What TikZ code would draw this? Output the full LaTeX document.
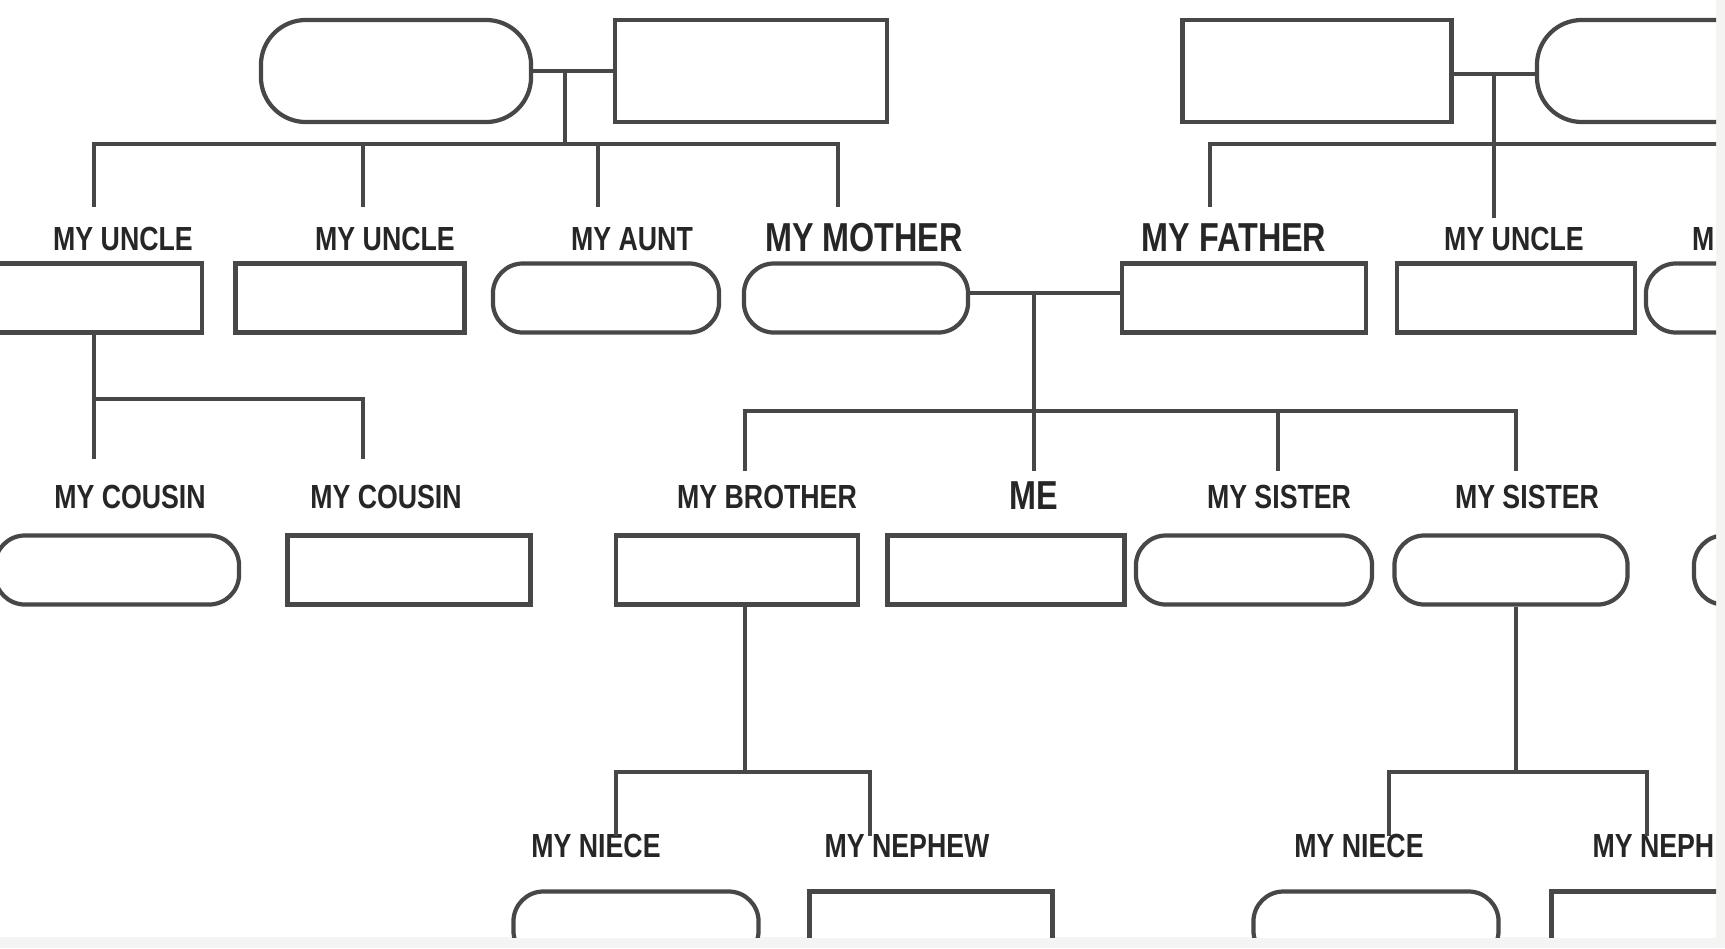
\documentclass[tikz,border=0pt]{standalone}
\usepackage{fontspec}
\newfontfamily\lblfont[FakeStretch=0.8]{Liberation Sans}
\definecolor{linegray}{HTML}{474747}
\definecolor{textgray}{HTML}{262626}
\definecolor{edgegray}{HTML}{F4F4F2}
\tikzset{
	person/.style={draw=linegray, line width=1.2pt, fill=white, minimum height=0.69cm, inner sep=0pt},
	male/.style={person},
	female/.style={person, rounded corners=0.3cm},
	lbl/.style={font=\lblfont\bfseries\fontsize{9.5}{10}\selectfont, text=textgray, inner sep=0pt},
	biglbl/.style={font=\lblfont\bfseries\fontsize{11.5}{12}\selectfont, text=textgray, inner sep=0pt},
	link/.style={draw=linegray, line width=0.9pt}
}
\begin{document}
\begin{tikzpicture}[x=0.01cm, y=-0.01cm]
	\fill [edgegray] (0,0) rectangle (1725,948);
	\fill [white] (0,0) rectangle (1716,937);
	\useasboundingbox (0,0) rectangle (1725,948);
	\clip (0,0) rectangle (1716,937);

	% grandparents
	\node [female, minimum width=2.70cm, minimum height=1.02cm, rounded corners=0.45cm] (gma) at (396,71) {};
	\node [male, minimum width=2.72cm, minimum height=1.02cm] (gpa) at (751,71) {};
	\node [male, minimum width=2.69cm, minimum height=1.02cm] (pgpa) at (1317,71) {};
	\node [female, minimum width=2.70cm, minimum height=1.02cm, rounded corners=0.45cm] (pgma) at (1672,71) {};

	% parents generation
	\node [male, minimum width=2.22cm] (uncleA) at (91,298) {};
	\node [male, minimum width=2.29cm] (uncleB) at (350,298) {};
	\node [female, minimum width=2.26cm] (aunt) at (606,298) {};
	\node [female, minimum width=2.24cm] (mother) at (856,298) {};
	\node [male, minimum width=2.44cm] (father) at (1244,298) {};
	\node [male, minimum width=2.38cm] (uncleC) at (1516,298) {};
	\node [female, minimum width=2.28cm] (auntC) at (1760,298) {};

	\node [lbl] (l-uncleA) at (123,239) {MY UNCLE};
	\node [lbl] (l-uncleB) at (385,239) {MY UNCLE};
	\node [lbl] (l-aunt) at (632,239) {MY AUNT};
	\node [biglbl] (l-mother) at (864,238) {MY MOTHER};
	\node [biglbl] (l-father) at (1234,238) {MY FATHER};
	\node [lbl] (l-uncleC) at (1514,239) {MY UNCLE};
	\node [lbl, anchor=east] (l-auntC) at (1715,239) {M};

	% my generation
	\node [female, minimum width=2.44cm] (cousinA) at (117,570) {};
	\node [male, minimum width=2.43cm] (cousinB) at (409,570) {};
	\node [male, minimum width=2.42cm] (brother) at (737,570) {};
	\node [male, minimum width=2.37cm] (me) at (1006,570) {};
	\node [female, minimum width=2.36cm] (sisterA) at (1254,570) {};
	\node [female, minimum width=2.33cm] (sisterB) at (1511,570) {};
	\node [female, minimum width=2.36cm] (cousinC) at (1812,570) {};

	\node [lbl] (l-cousinA) at (130,497) {MY COUSIN};
	\node [lbl] (l-cousinB) at (386,497) {MY COUSIN};
	\node [lbl] (l-brother) at (767,497) {MY BROTHER};
	\node [biglbl] (l-me) at (1034,496) {ME};
	\node [lbl] (l-sisterA) at (1279,497) {MY SISTER};
	\node [lbl] (l-sisterB) at (1527,497) {MY SISTER};

	% next generation
	\node [female, minimum width=2.45cm] (nieceA) at (636,926) {};
	\node [male, minimum width=2.43cm] (nephewA) at (931,926) {};
	\node [female, minimum width=2.45cm] (nieceB) at (1376,926) {};
	\node [male, minimum width=2.43cm] (nephewB) at (1673,926) {};

	\node [lbl] (l-nieceA) at (596,846) {MY NIECE};
	\node [lbl] (l-nephewA) at (907,846) {MY NEPHEW};
	\node [lbl] (l-nieceB) at (1359,846) {MY NIECE};
	\node [lbl, anchor=east] (l-nephewB) at (1715,846) {MY NEPH};

	% mother's side
	\coordinate (m1) at (565,71);
	\coordinate (m2) at (565,144);
	\draw [link] (gma.east) -- (gpa.west);
	\draw [link] (m1) -- (m2);
	\draw [link] (94,207) |- (838,144) -- (838,207);
	\draw [link] (363,144) -- (363,207);
	\draw [link] (598,144) -- (598,207);

	% father's side
	\coordinate (p1) at (1494,73);
	\coordinate (p2) at (1494,218);
	\draw [link] ([yshift=-0.03cm]pgpa.east) -- ([yshift=-0.03cm]pgma.west);
	\draw [link] (p1) -- (p2);
	\draw [link] (1210,207) |- (1725,144);

	% parents
	\coordinate (c1) at (1034,293);
	\coordinate (c2) at (1034,471);
	\draw [link] ([yshift=0.05cm]mother.east) -- ([yshift=0.05cm]father.west);
	\draw [link] (c1) -- (c2);
	\draw [link] (745,471) |- (1516,411) -- (1516,471);
	\draw [link] (1278,411) -- (1278,471);

	% uncle's children
	\draw [link] (uncleA.south -| 94,0) |- (363,399) -- (363,459);
	\draw [link] (94,399) -- (94,459);

	% brother's children
	\draw [link] (brother.south -| 745,0) -- (745,772);
	\draw [link] (616,836) |- (870,772) -- (870,836);

	% sister's children
	\draw [link] (sisterB.south -| 1516,0) -- (1516,772);
	\draw [link] (1389,836) |- (1647,772) -- (1647,836);
\end{tikzpicture}
\end{document}
